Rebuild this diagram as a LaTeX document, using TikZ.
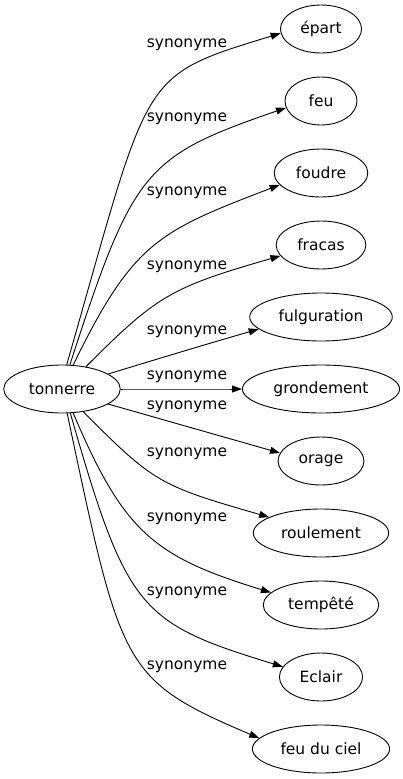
\documentclass[tikz,border=0pt]{standalone}
\usepackage{fontspec}
\setmainfont{DejaVu Sans}
\usetikzlibrary{shapes.geometric,arrows.meta}

\tikzset{
    mot/.style={draw,ellipse,line width=0.9pt,minimum width=72pt,minimum height=48pt,inner xsep=8pt},
    lien/.style={-{Triangle[length=10pt,width=7pt]},line width=0.9pt},
    etiq/.style={inner sep=0pt}
}

\begin{document}
\begin{tikzpicture}[x=1pt,y=1pt,font=\fontsize{15.5}{18}\selectfont]
    \useasboundingbox (0,0) rectangle (403,-779);
    \node[mot](tonnerre)at(62,-389){tonnerre};

    % synonymes: nom/texte/y/y etiquette/depart/out/dist/in/dist/arrivee
    \foreach \nom/\txt/\y/\ly/\sa/\o/\od/\i/\id/\ea in {
        epart/épart/29/45/79/74/305/197/150/186,
        feu/feu/101/119/72/72/205/199/150/191,
        foudre/foudre/173/193/65/64/137/201/130/196,
        fracas/fracas/245/267/43/45/100/196/115/195,
        fulguration/fulguration/317/332/18.5/17/50/196/50/191.5,
        grondement/grondement/389/377/0/0/40/180/40/180,
        orage/orage/461/407/-18.5/-16/50/164/50/169.5,
        roulement/roulement/533/454/-47/-45/100/164/115/163.5,
        tempete/tempêté/605/519/-65/-67/129/163/123/166,
        eclair/Eclair/677/593/-71/-74/205/163/150/165,
        feuduciel/feu du ciel/749/667/-78/-78/260/157/150/170}
    {
        \node[mot](\nom)at(321,-\y){\txt};
        \draw[lien](tonnerre.\sa)to[out=\o,in=\i,out distance=\od pt,in distance=\id pt](\nom.\ea);
        \node[etiq](l\nom)at(187,-\ly){synonyme};
    }
\end{tikzpicture}
\end{document}
